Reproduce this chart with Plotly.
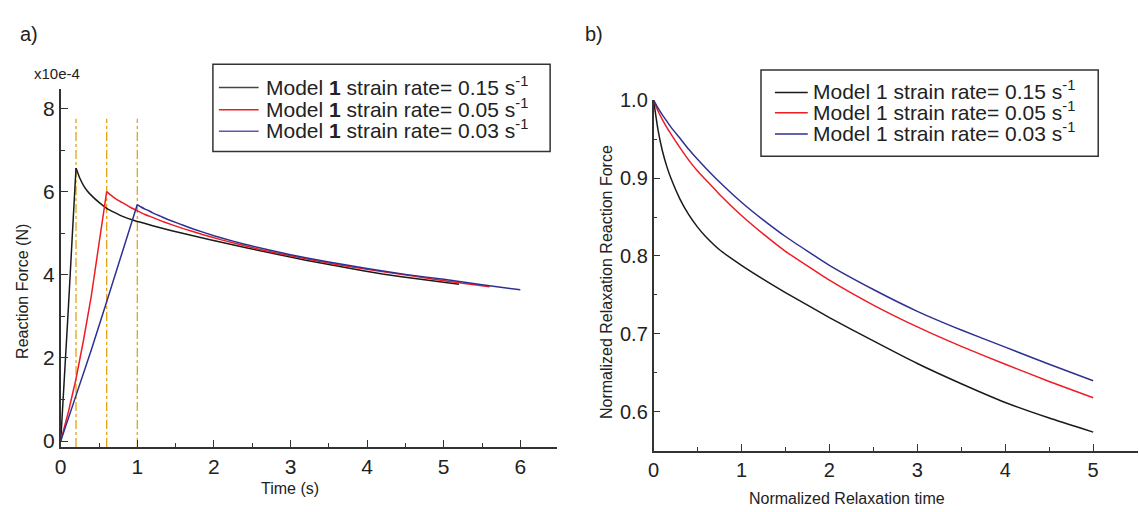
import plotly.graph_objects as go

W, H = 1139, 512
FONT = "Liberation Sans, Arial, Helvetica, sans-serif"

# ---------------- Panel a) data : reaction force (x1e-4 N) vs time (s)
ramp_end_times = [0.2, 0.6, 1.0]
dash_top = 7.75

black_ramp_t = [0, 0.05, 0.1, 0.15, 0.2]
black_ramp_f = [0, 1.5, 3.2, 4.9, 6.57]
black_relax_t = [0.2, 0.25, 0.3, 0.35, 0.4, 0.5, 0.6, 0.7, 0.8, 0.95, 1.2, 1.45, 1.7, 2.2, 2.7, 3.2, 3.7, 4.2, 4.7, 5.2]
black_relax_f = [6.57, 6.32, 6.14, 6.01, 5.91, 5.74, 5.60, 5.50, 5.41, 5.31, 5.18, 5.06, 4.95, 4.74, 4.54, 4.35, 4.18, 4.02, 3.89, 3.77]

red_ramp_t = [0, 0.1, 0.2, 0.3, 0.4, 0.5, 0.6]
red_ramp_f = [0, 0.7, 1.5, 2.45, 3.5, 4.7, 6.0]
red_relax_t = [0.6, 0.65, 0.7, 0.75, 0.8, 0.9, 1.0, 1.1, 1.2, 1.35, 1.6, 1.85, 2.1, 2.6, 3.1, 3.6, 4.1, 4.6, 5.1, 5.6]
red_relax_f = [6.0, 5.92, 5.85, 5.79, 5.74, 5.63, 5.54, 5.45, 5.38, 5.27, 5.11, 4.97, 4.84, 4.61, 4.42, 4.25, 4.10, 3.97, 3.83, 3.71]

blue_ramp_t = [0, 0.2, 0.4, 0.6, 0.8, 1.0]
blue_ramp_f = [0, 1.08, 2.2, 3.35, 4.5, 5.69]
blue_relax_t = [1.0, 1.05, 1.1, 1.15, 1.2, 1.3, 1.4, 1.5, 1.6, 1.75, 2.0, 2.25, 2.5, 3.0, 3.5, 4.0, 4.5, 5.0, 5.5, 6.0]
blue_relax_f = [5.69, 5.63, 5.58, 5.54, 5.49, 5.41, 5.33, 5.26, 5.19, 5.09, 4.94, 4.81, 4.69, 4.48, 4.31, 4.15, 4.01, 3.89, 3.76, 3.64]

# ---------------- Panel b) data : normalized relaxation
t_norm = [0, 0.05, 0.1, 0.15, 0.2, 0.3, 0.4, 0.5, 0.6, 0.75, 1.0, 1.25, 1.5, 2.0, 2.5, 3.0, 3.5, 4.0, 4.5, 5.0]
n_black = [1.0, 0.962, 0.935, 0.915, 0.899, 0.873, 0.853, 0.837, 0.824, 0.808, 0.788, 0.770, 0.753, 0.721, 0.691, 0.662, 0.636, 0.612, 0.592, 0.574]
n_red = [1.0, 0.986, 0.975, 0.965, 0.956, 0.939, 0.923, 0.909, 0.897, 0.879, 0.852, 0.828, 0.806, 0.769, 0.737, 0.709, 0.684, 0.661, 0.639, 0.618]
n_blue = [1.0, 0.990, 0.981, 0.973, 0.965, 0.951, 0.937, 0.924, 0.912, 0.895, 0.869, 0.846, 0.825, 0.788, 0.757, 0.729, 0.705, 0.683, 0.661, 0.640]

rates = ["0.15", "0.05", "0.03"]
colors = ["#1a1a1a", "#ee1c24", "#2e3192"]
legend_a_labels = [f"Model <b>1</b> strain rate= {r} s<sup>-1</sup>" for r in rates]
legend_b_labels = [f"Model 1 strain rate= {r} s<sup>-1</sup>" for r in rates]

fig = go.Figure()

series_a = [
    (black_ramp_t, black_ramp_f, black_relax_t, black_relax_f),
    (red_ramp_t, red_ramp_f, red_relax_t, red_relax_f),
    (blue_ramp_t, blue_ramp_f, blue_relax_t, blue_relax_f),
]
for (rt, rf, xt, xf), lab, col in zip(series_a, legend_a_labels, colors):
    fig.add_trace(go.Scatter(x=rt, y=rf, mode="lines", line=dict(color=col, width=1.5),
                             showlegend=False, name=lab, xaxis="x", yaxis="y"))
    fig.add_trace(go.Scatter(x=xt, y=xf, mode="lines", line=dict(color=col, width=1.5, shape="spline", smoothing=0.4),
                             name=lab, showlegend=False, xaxis="x", yaxis="y"))

for ys, lab, col in zip([n_black, n_red, n_blue], legend_b_labels, colors):
    fig.add_trace(go.Scatter(x=t_norm, y=ys, mode="lines", line=dict(color=col, width=1.5, shape="spline", smoothing=0.4),
                             name=lab, showlegend=False, xaxis="x2", yaxis="y2"))

yA_range = [-0.14, 8.48]
for t in ramp_end_times:
    fig.add_shape(type="line", xref="x", yref="y", x0=t, x1=t, y0=yA_range[0], y1=dash_top,
                  line=dict(color="#e3a21a", width=1.3, dash="dashdot"), layer="below")

axcol = "#333333"
common = dict(showline=True, linecolor=axcol, linewidth=1.6, ticks="inside", ticklen=7, tickwidth=1.2,
              tickcolor=axcol, showgrid=False, zeroline=False, mirror=False)

fig.update_layout(
    width=W, height=H, margin=dict(l=0, r=0, t=0, b=0),
    paper_bgcolor="white", plot_bgcolor="white", showlegend=False,
    font=dict(family=FONT, color="#222222"),
    xaxis=dict(domain=[55 / W, 554 / W], range=[0, 6.48], anchor="y", dtick=1, tick0=0,
               minor=dict(dtick=0.5, ticks="inside", ticklen=4, tickcolor=axcol, showgrid=False),
               tickfont=dict(size=21), **common),
    yaxis=dict(domain=[(H - 450) / H, (H - 80) / H], range=yA_range, anchor="x", dtick=2, tick0=0,
               minor=dict(dtick=1, ticks="inside", ticklen=4, tickcolor=axcol, showgrid=False),
               tickfont=dict(size=21), **common),
    xaxis2=dict(domain=[651 / W, 1138 / W], range=[0, 5.51], anchor="y2", dtick=1, tick0=0,
                minor=dict(dtick=0.5, ticks="inside", ticklen=4, tickcolor=axcol, showgrid=False),
                tickfont=dict(size=20), **common),
    yaxis2=dict(domain=[(H - 454) / H, (H - 92) / H], range=[0.55, 1.0], anchor="x2", dtick=0.1, tick0=0.6,
                tickformat=".1f",
                minor=dict(dtick=0.05, ticks="inside", ticklen=4, tickcolor=axcol, showgrid=False),
                tickfont=dict(size=20), **common),
)

def ann(text, x, y, size, angle=0, xanchor="center"):
    fig.add_annotation(text=text, x=x / W, y=1 - y / H, xref="paper", yref="paper", showarrow=False,
                       xanchor=xanchor, yanchor="middle", textangle=angle,
                       font=dict(size=size, family=FONT, color="#222222"))

# legend boxes (drawn as legend keys + text so row spacing matches the original)
def legend_box(x0, y0, x1, y1, key_x0, key_x1, text_x, row_y, labels, key_colors):
    fig.add_shape(type="rect", xref="paper", yref="paper", x0=x0 / W, x1=x1 / W, y0=1 - y1 / H, y1=1 - y0 / H,
                  line=dict(color=axcol, width=1.5), fillcolor="white", layer="above")
    for yy, lab, col in zip(row_y, labels, key_colors):
        fig.add_shape(type="line", xref="paper", yref="paper", x0=key_x0 / W, x1=key_x1 / W,
                      y0=1 - (yy + 2) / H, y1=1 - (yy + 2) / H, line=dict(color=col, width=1.5), layer="above")
        ann(lab, text_x, yy, 21, xanchor="left")

legend_box(208, 55, 547, 145, 214, 254, 259, [77, 100, 122], legend_a_labels, ["#444444", "#ee1c24", "#5a5ab0"])
legend_box(759, 61, 1098, 150, 773, 806, 809, [82, 103, 125], legend_b_labels, colors)

ann("a)", 23, 24, 20)
ann("b)", 591, 24, 20)
ann("x10e-4", 51, 65, 15)
ann("Time (s)", 286, 493, 16)
ann("Reaction Force (N)", 17, 289, 16, -90)
ann("Normalized Relaxation time", 845, 503, 16)
ann("Normalized Relaxation Reaction Force", 603, 280, 16, -90)

fig.write_html("out.html")
